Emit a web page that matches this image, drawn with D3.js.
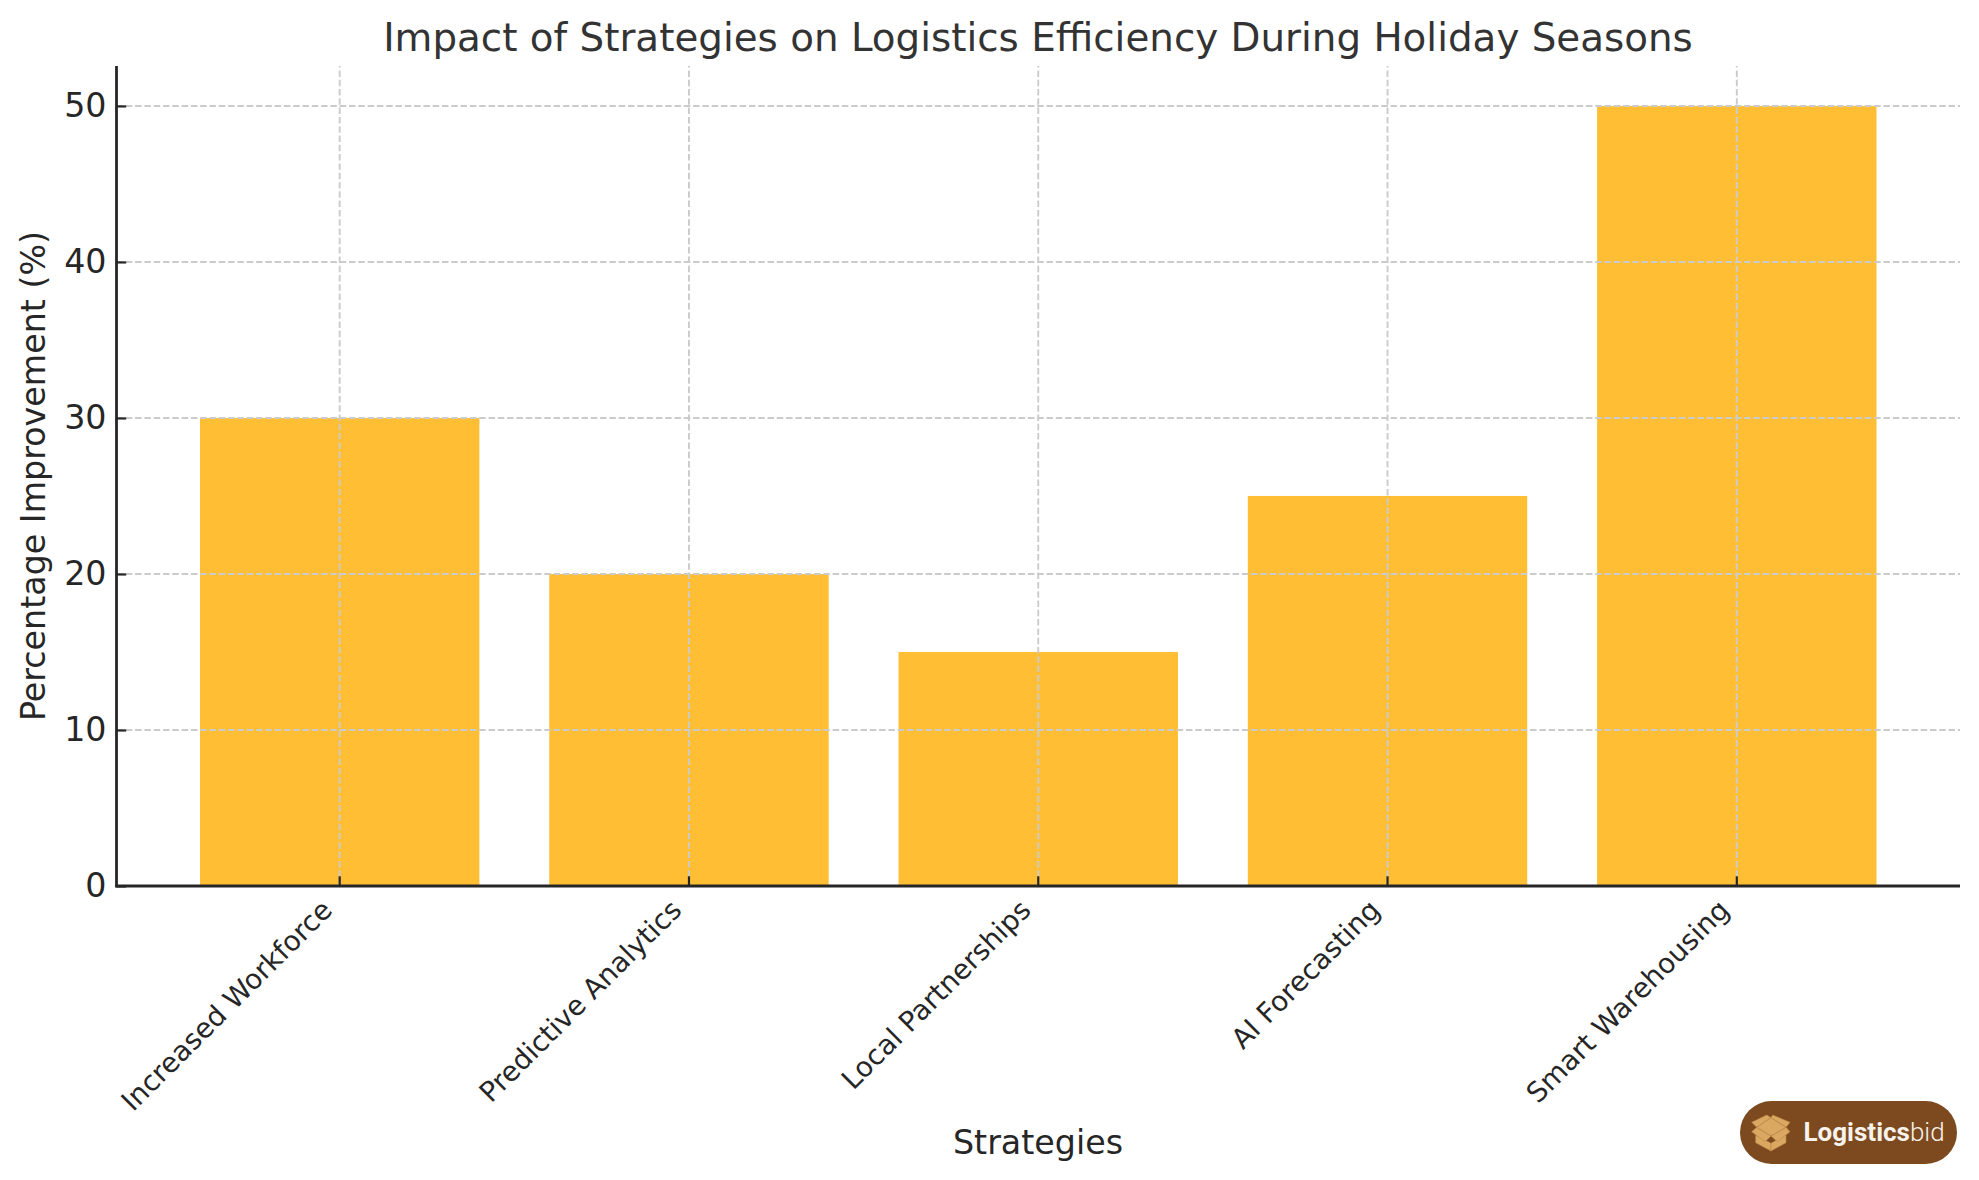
<!DOCTYPE html>
<html>
<head>
<meta charset="utf-8">
<script src="https://d3js.org/d3.v7.min.js"></script>
<style>
html,body{margin:0;padding:0;background:#fff;overflow:hidden}
text{font-family:"DejaVu Sans",sans-serif}
</style>
</head>
<body>
<svg id="c" width="1979" height="1180"></svg>
<script>
const categories = ["Increased Workforce","Predictive Analytics","Local Partnerships","AI Forecasting","Smart Warehousing"];
const values = [30,20,15,25,50];
const yTicks = [0,10,20,30,40,50];
const chartTitle = "Impact of Strategies on Logistics Efficiency During Holiday Seasons";
const xTitle = "Strategies";
const yTitle = "Percentage Improvement (%)";

const svg = d3.select("#c");
const L=116.5,R=1960,T=66,B=886;
const x = d3.scaleBand().domain(categories).range([L,R]).paddingInner(0.2).paddingOuter(0.239);
const y = d3.scaleLinear().domain([0,52.56]).range([B,T]);
const ink="#262626", gridC="#cbcbcb";

svg.append("g").selectAll("rect").data(values).join("rect")
  .attr("x",(d,i)=>x(categories[i])).attr("width",x.bandwidth())
  .attr("y",d=>y(d)).attr("height",d=>y(0)-y(d)).attr("fill","#FFBE33");

const grid = svg.append("g").attr("stroke",gridC).attr("stroke-width",1.9).attr("stroke-dasharray","6.5,2.8").attr("fill","none");
grid.selectAll("line.h").data(yTicks.slice(1)).join("line").attr("class","h")
  .attr("x1",L).attr("x2",R).attr("y1",d=>y(d)).attr("y2",d=>y(d));
grid.selectAll("line.v").data(categories).join("line").attr("class","v")
  .attr("x1",d=>x(d)+x.bandwidth()/2).attr("x2",d=>x(d)+x.bandwidth()/2).attr("y1",B).attr("y2",T);

const gy = svg.append("g").attr("transform",`translate(${L},0)`)
  .call(d3.axisLeft(y).tickValues(yTicks).tickSize(-9.7).tickPadding(10));
gy.selectAll("text").attr("font-size",33.3).attr("fill",ink).attr("font-family","DejaVu Sans");
const gx = svg.append("g").attr("transform",`translate(0,${B})`)
  .call(d3.axisBottom(x).tickSize(-9.7).tickFormat(""));
[gy,gx].forEach(g=>{
  g.select(".domain").attr("stroke",ink).attr("stroke-width",2.8);
  g.selectAll(".tick line").attr("stroke",ink).attr("stroke-width",2.2);
});
gy.select(".domain").attr("d",`M0,${B+1.3}V${T}`);
gx.select(".domain").attr("d",`M${L-1.3},0H${R}`);

svg.append("g").selectAll("text").data(categories).join("text")
  .attr("transform",d=>`translate(${x(d)+x.bandwidth()/2-20.5},${B+11}) rotate(-45)`)
  .attr("text-anchor","end").attr("dominant-baseline","hanging")
  .attr("font-size",27.75).attr("fill",ink).text(d=>d);

svg.append("text").attr("x",1038).attr("y",51).attr("text-anchor","middle")
  .attr("font-size",38.85).attr("fill","#333333").text(chartTitle);
svg.append("text").attr("x",1038).attr("y",1154).attr("text-anchor","middle")
  .attr("font-size",33.3).attr("fill",ink).text(xTitle);
svg.append("text").attr("transform",`translate(45,476) rotate(-90)`).attr("text-anchor","middle")
  .attr("font-size",33.3).attr("fill",ink).text(yTitle);

// logo badge
const logo = svg.append("g");
logo.append("rect").attr("x",1740).attr("y",1101).attr("width",217).attr("height",63).attr("rx",31.5).attr("fill","#7C4A1E");
const icon = logo.append("g").attr("fill","#DBA862").attr("stroke","#B98748").attr("stroke-width",0.6);
[
 "1755.7,1135 1771,1143.3 1771,1151 1755.7,1142.7",
 "1786,1135 1771,1143.3 1771,1151 1786,1142.7",
 "1751.7,1122.3 1766.7,1115 1771,1117.7 1756.7,1127.3",
 "1772.7,1115 1790,1122.3 1786,1127.3 1771,1117.7",
 "1751.7,1131.7 1756.7,1127.3 1771,1136 1765,1141.7",
 "1790,1131.7 1786,1127.3 1771,1136 1777.3,1141.7",
 "1756.7,1127.3 1771,1117.7 1786,1127.3 1771,1136"
].forEach(p=>icon.append("polygon").attr("points",p));
const lt = logo.append("text").attr("x",1803.5).attr("y",1141).attr("fill","#f7f2ec")
  .attr("font-size",26).style("font-family","Roboto");
lt.append("tspan").attr("font-weight",700).text("Logistics");
lt.append("tspan").attr("font-weight",300).text("bid");
</script>
</body>
</html>
